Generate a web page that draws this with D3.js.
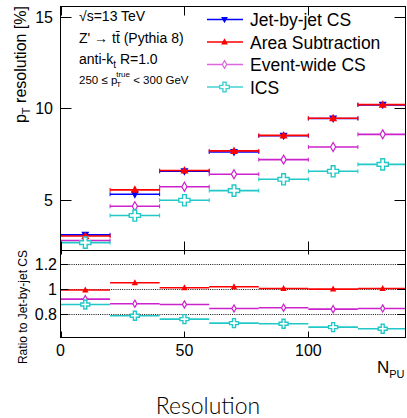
<!DOCTYPE html>
<html>
<head>
<meta charset="utf-8">
<style>
body{margin:0;background:#fff;}
svg{display:block;font-family:"Liberation Sans",Arial,sans-serif;}
</style>
<script src="https://d3js.org/d3.v7.min.js"></script>
</head>
<body>
<svg id="chart" width="407" height="418"></svg>
<script>
// bins in N_PU
const binLo = [0, 20, 40, 60, 80, 100, 120];
const binHi = [20, 40, 60, 80, 100, 120, 140];
const binMid = [10, 30, 50, 70, 90, 110, 130];

// pT resolution [%]
const jetByJet  = [3.06, 5.29, 6.55, 7.61, 8.50, 9.45, 10.20];
const areaSub   = [3.00, 5.53, 6.59, 7.67, 8.52, 9.46, 10.21];
const eventWide = [2.75, 4.63, 5.70, 6.39, 7.19, 7.88, 8.58];
const ics       = [2.63, 4.12, 4.96, 5.49, 6.11, 6.55, 6.93];

// ratio to jet-by-jet CS
const ratioArea  = [0.990, 1.048, 1.008, 1.016, 1.002, 0.997, 1.002];
const ratioEvent = [0.917, 0.880, 0.874, 0.842, 0.848, 0.837, 0.842];
const ratioIcs   = [0.874, 0.784, 0.757, 0.725, 0.720, 0.693, 0.680];

const seriesNames = ["Jet-by-jet CS", "Area Subtraction", "Event-wide CS", "ICS"];
const xTicks = [0, 50, 100];
const yTicks = [5, 10, 15];
const rTicks = [0.8, 1, 1.2];
const rTickLabels = ["0.8", "1", "1.2"];

const svg = d3.select("#chart");
const pLeft = 60.5, pRight = 405.5, pTop = 6.5, pMid = 250.5, pBottom = 337.5;

const x = d3.scaleLinear().domain([0, 139.2]).range([pLeft, pRight]);
const y = d3.scaleLinear().domain([2.2, 15.6]).range([pMid, pTop]);
const yr = d3.scaleLinear().domain([0.61, 1.306]).range([pBottom, pMid]);

const styles = [
  {color: "#0000ff", sym: "down"},
  {color: "#ff0000", sym: "up"},
  {color: "#cc22cc", sym: "diamond", legend: "#dd66dd"},
  {color: "#22c8c8", sym: "cross", legend: "#44d0d0"}
];

function marker(g, type, cx, cy, color, s) {
  s = s || 1;
  if (type === "up" || type === "down") {
    const p = type === "up"
      ? [[0,-4.5],[4,3],[-4,3]]
      : [[0,4.5],[4,-3],[-4,-3]];
    g.append("path")
      .attr("d", "M" + p.map(q => [cx + q[0]*s, cy + q[1]*s].join(",")).join("L") + "Z")
      .attr("fill", color);
  } else if (type === "diamond") {
    g.append("path")
      .attr("d", `M${cx},${cy-4.5*s}L${cx+2.6*s},${cy}L${cx},${cy+4.5*s}L${cx-2.6*s},${cy}Z`)
      .attr("fill", "#fff").attr("stroke", color).attr("stroke-width", 1.2);
  } else {
    g.append("path")
      .attr("d", d3.symbol().type(d3.symbolCross).size(70*s*s)())
      .attr("transform", `translate(${cx},${cy})`)
      .attr("fill", "#fff").attr("stroke", color).attr("stroke-width", 1.4);
  }
}

function drawSeries(g, vals, scale, st, caps) {
  vals.forEach((v, i) => {
    const yy = scale(v);
    g.append("line")
      .attr("x1", x(binLo[i])).attr("x2", x(binHi[i]))
      .attr("y1", yy).attr("y2", yy)
      .attr("stroke", st.color).attr("stroke-width", 1.6);
    if (caps) {
      [binLo[i], binHi[i]].forEach(b => {
        g.append("line")
          .attr("x1", x(b)).attr("x2", x(b))
          .attr("y1", yy - 2).attr("y2", yy + 2)
          .attr("stroke", st.color).attr("stroke-width", 1);
      });
    }
    marker(g, st.sym, x(binMid[i]), yy, st.color, caps ? 1 : 0.8);
  });
}

// clip regions
const defs = svg.append("defs");
defs.append("clipPath").attr("id", "clipMain")
  .append("rect").attr("x", pLeft).attr("y", pTop).attr("width", pRight - pLeft).attr("height", pMid - pTop);
defs.append("clipPath").attr("id", "clipRatio")
  .append("rect").attr("x", pLeft).attr("y", pMid).attr("width", pRight - pLeft).attr("height", pBottom - pMid);

// main panel
const pMain = svg.append("g").attr("clip-path", "url(#clipMain)");
[jetByJet, areaSub, eventWide, ics].forEach((vals, k) => drawSeries(pMain, vals, y, styles[k], true));

// ratio panel
const gRatio = svg.append("g").attr("clip-path", "url(#clipRatio)");
rTicks.forEach(t => {
  gRatio.append("line")
    .attr("x1", pLeft).attr("x2", pRight).attr("y1", Math.round(yr(t)) + 0.5).attr("y2", Math.round(yr(t)) + 0.5)
    .attr("stroke", "#111").attr("stroke-width", 1).attr("stroke-dasharray", "1,1.2");
});
[ratioArea, ratioEvent, ratioIcs].forEach((vals, k) => drawSeries(gRatio, vals, yr, styles[k + 1], false));

// frames
const frame = svg.append("g").attr("fill", "none").attr("stroke", "#000").attr("stroke-width", 1);
frame.append("rect").attr("x", pLeft).attr("y", pTop).attr("width", pRight - pLeft).attr("height", pMid - pTop);
frame.append("rect").attr("x", pLeft).attr("y", pMid).attr("width", pRight - pLeft).attr("height", pBottom - pMid);

// ticks
const axes = svg.append("g").attr("stroke", "#000").attr("stroke-width", 1);
xTicks.forEach(t => {
  const xx = Math.round(x(t)) + 0.5;
  axes.append("line").attr("x1", xx).attr("x2", xx).attr("y1", pMid).attr("y2", pMid - 9);
  axes.append("line").attr("x1", xx).attr("x2", xx).attr("y1", pTop).attr("y2", pTop + 9);
  axes.append("line").attr("x1", xx).attr("x2", xx).attr("y1", pMid).attr("y2", pMid + 4);
  axes.append("line").attr("x1", xx).attr("x2", xx).attr("y1", pBottom).attr("y2", pBottom - 6);
});
yTicks.forEach(t => {
  const yy = Math.round(y(t)) + 0.5;
  axes.append("line").attr("x1", pLeft).attr("x2", pLeft + 11).attr("y1", yy).attr("y2", yy);
  axes.append("line").attr("x1", pRight).attr("x2", pRight - 11).attr("y1", yy).attr("y2", yy);
});
rTicks.forEach(t => {
  const yy = Math.round(yr(t)) + 0.5;
  axes.append("line").attr("x1", pLeft).attr("x2", pLeft + 8).attr("y1", yy).attr("y2", yy);
  axes.append("line").attr("x1", pRight).attr("x2", pRight - 8).attr("y1", yy).attr("y2", yy);
});

// tick labels
const lab = svg.append("g").attr("font-size", 16).attr("fill", "#000");
yTicks.forEach(t => {
  lab.append("text").attr("x", 53).attr("y", y(t) + 6).attr("text-anchor", "end").text(t);
});
rTicks.forEach((t, i) => {
  lab.append("text").attr("x", 57).attr("y", yr(t) + 6).attr("text-anchor", "end").text(rTickLabels[i]);
});
xTicks.forEach(t => {
  lab.append("text").attr("x", x(t)).attr("y", 356).attr("text-anchor", "middle").text(t);
});

// axis titles
const npu = svg.append("text").attr("x", 377).attr("y", 373).attr("font-size", 17);
npu.append("tspan").text("N");
npu.append("tspan").attr("font-size", 11).attr("dy", 5).text("PU");

const yt = svg.append("text").attr("transform", "translate(26,6) rotate(-90)")
  .attr("text-anchor", "end").attr("font-size", 16);
yt.append("tspan").text("p");
yt.append("tspan").attr("font-size", 11).attr("dy", 4).text("T");
yt.append("tspan").attr("dy", -4).text(" resolution [%]");

svg.append("text").attr("transform", "translate(27,250) rotate(-90)")
  .attr("text-anchor", "end").attr("font-size", 12).text("Ratio to Jet-by-jet CS");

// annotations
const ann = svg.append("g").attr("font-size", 14);
ann.append("text").attr("x", 79).attr("y", 21).text("\u221As=13 TeV");
ann.append("text").attr("x", 79).attr("y", 43).text("Z' \u2192 t\u0074\u0304 (Pythia 8)");
const a3 = ann.append("text").attr("x", 79).attr("y", 64);
a3.append("tspan").text("anti-k");
a3.append("tspan").attr("font-size", 10).attr("dy", 4).text("t");
a3.append("tspan").attr("dy", -4).text(" R=1.0");
const a4 = ann.append("text").attr("x", 79).attr("y", 84).attr("font-size", 11.5);
a4.append("tspan").text("250 \u2264 p");
a4.append("tspan").attr("font-size", 8).attr("dy", 3).attr("dx", -1).text("T");
a4.append("tspan").attr("font-size", 8).attr("dy", -10).attr("dx", -5).text("true");
a4.append("tspan").attr("dy", 7).text(" < 300 GeV");

// legend
const leg = svg.append("g");
const legY = [19.5, 42, 64.5, 87];
seriesNames.forEach((name, k) => {
  const st = styles[k];
  const c = st.legend || st.color;
  leg.append("line").attr("x1", 207).attr("x2", 243).attr("y1", legY[k]).attr("y2", legY[k])
    .attr("stroke", c).attr("stroke-width", 1.5);
  marker(leg, st.sym, 224.5, legY[k], c, 0.85);
  leg.append("text").attr("x", 250).attr("y", legY[k] + 6.5).attr("font-size", 17.5).text(name);
});

// caption
svg.append("text").attr("x", 208).attr("y", 414).attr("text-anchor", "middle")
  .attr("font-size", 23).attr("font-weight", 300)
  .attr("font-family", "Lato, 'Liberation Sans', sans-serif").text("Resolution");
</script>
</body>
</html>
